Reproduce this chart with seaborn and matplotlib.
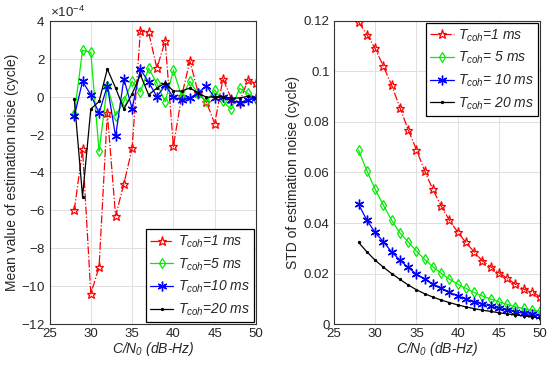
import numpy as np
import matplotlib
matplotlib.use("Agg")
import matplotlib.pyplot as plt
import seaborn as sns
from matplotlib.ticker import ScalarFormatter

sns.set_style("whitegrid")
plt.rcParams['font.family'] = ['Liberation Sans', 'DejaVu Sans']
plt.rcParams['mathtext.fontset'] = 'custom'
plt.rcParams['mathtext.it'] = 'Liberation Sans:italic'
plt.rcParams['mathtext.rm'] = 'Liberation Sans:italic'
plt.rcParams['axes.unicode_minus'] = False

cn0 = np.arange(28, 51)

# mean value of estimation noise, units of 1e-4 cycle
mean_1ms = [-6.0, -2.77, -10.4, -9.0, -0.86, -6.29, -4.61, -2.72, 3.47, 3.4, 1.5, 2.94,
            -2.62, 0.05, 1.88, 0.2, -0.3, -1.42, 0.95, -0.1, -0.3, 0.86, 0.7]
mean_5ms = [-0.93, 2.45, 2.34, -2.89, 0.58, -1.0, -0.25, 0.81, 0.25, 1.5, 0.7, -0.27,
            1.4, 0.0, 0.81, 0.14, -0.25, 0.35, -0.25, -0.67, 0.44, 0.18, -0.1]
mean_10ms = [-1.04, 0.81, 0.1, -0.86, 0.58, -2.1, 0.95, -0.63, 1.45, 0.77, 0.0, 0.6,
             -0.02, -0.18, -0.07, 0.22, 0.56, -0.05, 0.0, -0.2, -0.32, -0.18, -0.07]
mean_20ms = [-0.12, -5.27, -0.65, -0.25, 1.46, 0.46, -0.65, 0.14, 1.16, 0.1, 0.46, 0.72,
             0.3, 0.3, 0.46, 0.2, -0.03, 0.0, 0.0, -0.07, -0.07, 0.02, -0.07]

# STD of estimation noise, cycle
std_1ms = [0.1196, 0.1146, 0.1091, 0.1021, 0.0946, 0.0857, 0.0770, 0.0691, 0.0607,
           0.0533, 0.0468, 0.0411, 0.0365, 0.0323, 0.0286, 0.0250, 0.0227, 0.0203,
           0.0181, 0.0158, 0.0138, 0.0128, 0.0108]
std_5ms = [0.0688, 0.0607, 0.0534, 0.0471, 0.0411, 0.0361, 0.0326, 0.0289, 0.0256,
           0.0227, 0.0201, 0.0178, 0.0158, 0.0141, 0.0125, 0.0111, 0.0099, 0.0088,
           0.0078, 0.0068, 0.0062, 0.0055, 0.0051]
std_10ms = [0.0474, 0.0411, 0.0363, 0.0326, 0.0286, 0.0253, 0.0224, 0.0198, 0.0178,
            0.0158, 0.0141, 0.0125, 0.0112, 0.0099, 0.0088, 0.0079, 0.0071, 0.0062,
            0.0055, 0.0049, 0.0042, 0.0038, 0.0033]
std_20ms = [0.0323, 0.0286, 0.0253, 0.0225, 0.0200, 0.0177, 0.0155, 0.0136, 0.0120,
            0.0107, 0.0095, 0.0085, 0.0076, 0.0068, 0.0061, 0.0055, 0.0050, 0.0045,
            0.0040, 0.0036, 0.0032, 0.0028, 0.0024]

labels_left = ["$T_{coh}$=1 ms", "$T_{coh}$=5 ms", "$T_{coh}$=10 ms", "$T_{coh}$=20 ms"]
labels_right = ["$T_{coh}$=1 ms", "$T_{coh}$= 5 ms", "$T_{coh}$= 10 ms", "$T_{coh}$= 20 ms"]

styles = [
    dict(color="red", linestyle="-.", marker="*", markersize=6.5,
         markerfacecolor="none", markeredgewidth=0.9),
    dict(color="#00ee00", linestyle="-", marker="d", markersize=5.2,
         markerfacecolor="none", markeredgewidth=0.9),
    dict(color="blue", linestyle="-", marker=(6, 2, 0), markersize=7,
         markeredgewidth=1.0),
    dict(color="black", linestyle="-", marker=".", markersize=3.2),
]

fig = plt.figure(figsize=(5.5, 3.67), dpi=100)
ax1 = fig.add_axes([0.09, 0.117, 0.3755, 0.826])
ax2 = fig.add_axes([0.607, 0.117, 0.375, 0.826])


def draw(ax, series, labels):
    for y, lab, st in zip(series, labels, styles):
        sns.lineplot(x=cn0, y=y, ax=ax, label=lab, linewidth=0.9,
                     markeredgecolor=st["color"], **st)


draw(ax1, [np.array(s) * 1e-4 for s in (mean_1ms, mean_5ms, mean_10ms, mean_20ms)], labels_left)
draw(ax2, [std_1ms, std_5ms, std_10ms, std_20ms], labels_right)

ax1.set_ylim(-12e-4, 4e-4)
ax1.set_yticks(np.arange(-12, 5, 2) * 1e-4)
fmt = ScalarFormatter(useMathText=True)
fmt.set_powerlimits((-4, -4))
ax1.yaxis.set_major_formatter(fmt)
ax1.yaxis.get_offset_text().set_fontsize(9.5)
ax1.set_ylabel("Mean value of estimation noise (cycle)", fontsize=10, labelpad=2)

ax2.set_ylim(0, 0.12)
ax2.set_yticks(np.arange(0, 0.121, 0.02))
ax2.set_yticklabels(["0", "0.02", "0.04", "0.06", "0.08", "0.1", "0.12"])
ax2.set_ylabel("STD of estimation noise (cycle)", fontsize=10, labelpad=3)

for ax in (ax1, ax2):
    ax.set_xlim(25, 50)
    ax.set_xticks(range(25, 51, 5))
    ax.set_xlabel("$C/N_0$ (dB-Hz)", fontsize=10, fontstyle="italic", labelpad=0)
    ax.tick_params(labelsize=9.5, direction="in", length=3, color="#333333", pad=3)
    ax.grid(True, color="#e0e0e0", lw=0.7)
    for s in ax.spines.values():
        s.set_color("#333333")
        s.set_linewidth(0.8)

leg_kw = dict(frameon=True, fancybox=False, edgecolor="black",
              framealpha=1, borderaxespad=0.15, handlelength=1.7, labelspacing=0.45,
              borderpad=0.3, handletextpad=0.3, prop={'style': 'italic', 'size': 10})
l1 = ax1.legend(loc="lower right", **leg_kw)
l2 = ax2.legend(loc="upper right", **leg_kw)
for l in (l1, l2):
    l.get_frame().set_linewidth(0.9)

fig.savefig("out.png", dpi=100)
